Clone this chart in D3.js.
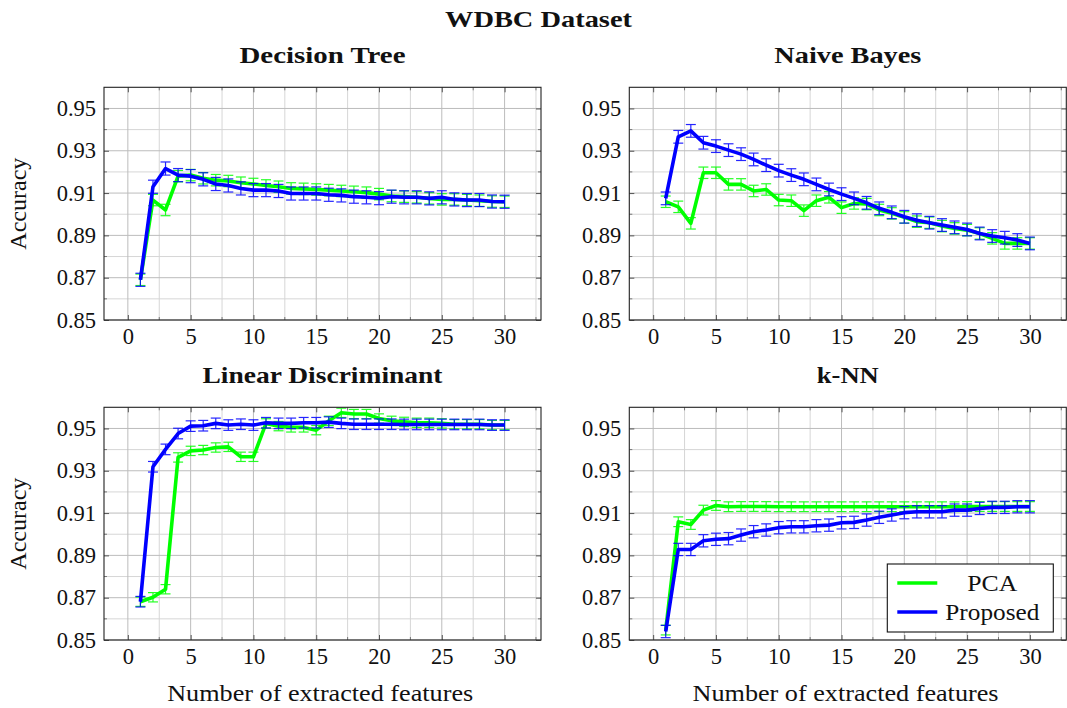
<!DOCTYPE html>
<html>
<head>
<meta charset="utf-8">
<script src="https://cdn.jsdelivr.net/npm/d3@7"></script>
<style>
  body { margin: 0; background: #fff; }
  svg text { font-family: "Liberation Serif", "DejaVu Serif", serif; fill: #111; }
</style>
</head>
<body>
<div id="image"></div>
<script>
// number of extracted features (x values)
var features = [1,2,3,4,5,6,7,8,9,10,11,12,13,14,15,16,17,18,19,20,21,22,23,24,25,26,27,28,29,30];

// decision tree
var dtPca = [0.8690,0.9067,0.9020,0.9180,0.9185,0.9170,0.9161,0.9157,0.9149,0.9143,0.9136,0.9130,0.9122,0.9120,0.9117,
             0.9114,0.9110,0.9106,0.9102,0.9095,0.9086,0.9083,0.9080,0.9075,0.9070,0.9070,0.9067,0.9064,0.9060,0.9059];
var dtProposed = [0.8690,0.9130,0.9216,0.9185,0.9180,0.9165,0.9143,0.9136,0.9122,0.9114,0.9114,0.9110,0.9098,0.9098,0.9098,
                  0.9092,0.9089,0.9083,0.9080,0.9076,0.9083,0.9080,0.9080,0.9075,0.9080,0.9070,0.9067,0.9067,0.9060,0.9059];
var dtPcaErr = 0.0027, dtProposedErr = 0.0031;

// naive bayes
var nbPca = [0.9059,0.9035,0.8957,0.9196,0.9196,0.9141,0.9141,0.9110,0.9117,0.9067,0.9064,0.9017,0.9064,0.9080,0.9031,
             0.9051,0.9048,0.9020,0.9004,0.8985,0.8965,0.8960,0.8944,0.8933,0.8925,0.8909,0.8886,0.8862,0.8862,0.8862];
var nbProposed = [0.9075,0.9366,0.9394,0.9338,0.9322,0.9303,0.9284,0.9259,0.9232,0.9206,0.9185,0.9165,0.9141,0.9117,0.9095,
                  0.9075,0.9054,0.9028,0.9009,0.8988,0.8972,0.8960,0.8949,0.8938,0.8928,0.8909,0.8897,0.8889,0.8878,0.8862];
var nbPcaErr = 0.0027, nbProposedErr = 0.0030;

// linear discriminant
var ldaPca = [0.8681,0.8702,0.8740,0.9363,0.9394,0.9398,0.9410,0.9413,0.9366,0.9366,0.9524,0.9511,0.9505,0.9505,0.9492,
              0.9536,0.9574,0.9568,0.9568,0.9547,0.9536,0.9531,0.9527,0.9527,0.9524,0.9520,0.9520,0.9520,0.9516,0.9516];
var ldaProposed = [0.8681,0.9319,0.9401,0.9476,0.9511,0.9513,0.9524,0.9516,0.9520,0.9516,0.9527,0.9524,0.9524,0.9527,0.9527,
                   0.9530,0.9524,0.9520,0.9520,0.9520,0.9520,0.9519,0.9519,0.9519,0.9519,0.9519,0.9519,0.9519,0.9516,0.9516];
var ldaPcaErr = 0.0022, ldaProposedErr = 0.0025;

// k-NN
var knnPca = [0.8547,0.9059,0.9046,0.9114,0.9136,0.9130,0.9131,0.9131,0.9131,0.9130,0.9130,0.9130,0.9130,0.9130,0.9130,
              0.9130,0.9130,0.9130,0.9130,0.9130,0.9130,0.9130,0.9130,0.9130,0.9131,0.9131,0.9131,0.9131,0.9131,0.9131];
var knnProposed = [0.8540,0.8928,0.8928,0.8969,0.8976,0.8979,0.8996,0.9012,0.9020,0.9031,0.9035,0.9035,0.9040,0.9043,0.9054,
                   0.9056,0.9067,0.9080,0.9091,0.9102,0.9106,0.9106,0.9106,0.9114,0.9114,0.9122,0.9127,0.9127,0.9130,0.9130];
var knnPcaErr = 0.0023, knnProposedErr = 0.0029;

// ticks
var xTicks = [0,5,10,15,20,25,30];
var xMinor = [2.5,7.5,12.5,17.5,22.5,27.5,32.5];
var yTicks = [0.85,0.87,0.89,0.91,0.93,0.95];
var yMinor = [0.86,0.88,0.90,0.92,0.94];

var seriesNames = ["PCA", "Proposed"];
var seriesColors = ["#00ff00", "#0000ff"];

var fs = 23.5;
var serif = "Liberation Serif";
var W = 437, H = 232.7;

var svg = d3.select("#image").append("svg")
    .attr("width", 1067)
    .attr("height", 708);

// main title
svg.append("text")
    .attr("x", 538.5).attr("y", 27)
    .attr("text-anchor", "middle")
    .attr("font-weight", "bold")
    .attr("font-size", fs)
    .attr("textLength", 187).attr("lengthAdjust", "spacingAndGlyphs")
    .text("WDBC Dataset");

var panels = [
    {title: "Decision Tree", tl: 166, left: 104, top: 87.3, pca: dtPca, prop: dtProposed, pe: dtPcaErr, qe: dtProposedErr, ylab: true, xlab: false},
    {title: "Naive Bayes", tl: 147, left: 629.3, top: 87.3, pca: nbPca, prop: nbProposed, pe: nbPcaErr, qe: nbProposedErr, ylab: false, xlab: false},
    {title: "Linear Discriminant", tl: 240, left: 104, top: 407.3, pca: ldaPca, prop: ldaProposed, pe: ldaPcaErr, qe: ldaProposedErr, ylab: true, xlab: true},
    {title: "k-NN", tl: 62, left: 629.3, top: 407.3, pca: knnPca, prop: knnProposed, pe: knnPcaErr, qe: knnProposedErr, ylab: false, xlab: true, legend: true}
];

var x = d3.scaleLinear().domain([-1.9, 32.9]).range([0, W]);
var y = d3.scaleLinear().domain([0.85, 0.96]).range([H, 0]);

panels.forEach(function(p, i) {
    var g = svg.append("g").attr("transform", "translate(" + p.left + "," + p.top + ")");

    g.append("clipPath").attr("id", "clip" + i)
        .append("rect").attr("width", W).attr("height", H);

    // minor grid
    g.selectAll(".gxm").data(xMinor).enter().append("line")
        .attr("x1", function(d){ return x(d); }).attr("x2", function(d){ return x(d); })
        .attr("y1", 0).attr("y2", H)
        .attr("stroke", "#d6d6d6").attr("stroke-width", 1);
    g.selectAll(".gym").data(yMinor).enter().append("line")
        .attr("y1", function(d){ return y(d); }).attr("y2", function(d){ return y(d); })
        .attr("x1", 0).attr("x2", W)
        .attr("stroke", "#d6d6d6").attr("stroke-width", 1);
    // major grid
    g.selectAll(".gx").data(xTicks).enter().append("line")
        .attr("x1", function(d){ return x(d); }).attr("x2", function(d){ return x(d); })
        .attr("y1", 0).attr("y2", H)
        .attr("stroke", "#bcbcbc").attr("stroke-width", 1);
    g.selectAll(".gy").data(yTicks).enter().append("line")
        .attr("y1", function(d){ return y(d); }).attr("y2", function(d){ return y(d); })
        .attr("x1", 0).attr("x2", W)
        .attr("stroke", "#bcbcbc").attr("stroke-width", 1);

    // axes (ticks inside, labels outside)
    var ax = g.append("g").attr("transform", "translate(0," + H + ")")
        .call(d3.axisBottom(x).tickValues(xTicks).tickSize(-5).tickPadding(10).tickFormat(d3.format("d")));
    var ay = g.append("g")
        .call(d3.axisLeft(y).tickValues(yTicks).tickSize(-5).tickPadding(8).tickFormat(d3.format(".2f")));
    g.append("g").call(d3.axisTop(x).tickValues(xTicks).tickSize(-5).tickFormat(""));
    g.append("g").attr("transform", "translate(" + W + ",0)")
        .call(d3.axisRight(y).tickValues(yTicks).tickSize(-5).tickFormat(""));
    [ax, ay].forEach(function(a) {
        a.attr("font-family", serif).attr("font-size", fs - 1);
        a.selectAll("text").attr("font-size", fs - 1).attr("font-family", serif).attr("fill", "#111");
    });
    ax.selectAll("text").attr("dy", "0.62em");
    g.selectAll(".domain").remove();
    g.selectAll(".tick line").attr("stroke", "#555");

    // minor tick marks
    [0, H].forEach(function(yy) {
        g.selectAll(null).data(xMinor).enter().append("line")
            .attr("x1", function(d){ return x(d); }).attr("x2", function(d){ return x(d); })
            .attr("y1", yy).attr("y2", yy === 0 ? 3 : H - 3)
            .attr("stroke", "#777");
    });
    [0, W].forEach(function(xx) {
        g.selectAll(null).data(yMinor).enter().append("line")
            .attr("y1", function(d){ return y(d); }).attr("y2", function(d){ return y(d); })
            .attr("x1", xx).attr("x2", xx === 0 ? 3 : W - 3)
            .attr("stroke", "#777");
    });

    // series
    var plot = g.append("g").attr("clip-path", "url(#clip" + i + ")");
    var line = d3.line()
        .x(function(d, j){ return x(features[j]); })
        .y(function(d){ return y(d); });

    [[p.pca, p.pe], [p.prop, p.qe]].forEach(function(s, k) {
        var col = seriesColors[k];
        plot.append("path")
            .datum(s[0])
            .attr("d", line)
            .attr("fill", "none")
            .attr("stroke", col)
            .attr("stroke-width", 3.6)
            .attr("stroke-linejoin", "round");
        var eb = plot.selectAll(null).data(s[0]).enter().append("g")
            .attr("stroke", col).attr("stroke-width", 1.2).attr("opacity", 0.85);
        eb.append("line")
            .attr("x1", function(d, j){ return x(features[j]); })
            .attr("x2", function(d, j){ return x(features[j]); })
            .attr("y1", function(d){ return y(d - s[1]); })
            .attr("y2", function(d){ return y(d + s[1]); });
        eb.append("line")
            .attr("x1", function(d, j){ return x(features[j]) - 5; })
            .attr("x2", function(d, j){ return x(features[j]) + 5; })
            .attr("y1", function(d){ return y(d - s[1]); })
            .attr("y2", function(d){ return y(d - s[1]); });
        eb.append("line")
            .attr("x1", function(d, j){ return x(features[j]) - 5; })
            .attr("x2", function(d, j){ return x(features[j]) + 5; })
            .attr("y1", function(d){ return y(d + s[1]); })
            .attr("y2", function(d){ return y(d + s[1]); });
    });

    // frame
    g.append("rect")
        .attr("width", W).attr("height", H)
        .attr("fill", "none").attr("stroke", "#222").attr("stroke-width", 1.1);

    // panel title
    g.append("text")
        .attr("x", W / 2).attr("y", -24)
        .attr("text-anchor", "middle")
        .attr("font-weight", "bold")
        .attr("font-size", fs)
        .attr("textLength", p.tl).attr("lengthAdjust", "spacingAndGlyphs")
        .text(p.title);

    if (p.ylab) {
        g.append("text")
            .attr("transform", "translate(" + (-78) + "," + (H / 2) + ") rotate(-90)")
            .attr("text-anchor", "middle")
            .attr("font-size", fs)
            .attr("textLength", 92).attr("lengthAdjust", "spacingAndGlyphs")
            .text("Accuracy");
    }
    if (p.xlab) {
        g.append("text")
            .attr("x", x(15) + 4).attr("y", H + 61)
            .attr("text-anchor", "middle")
            .attr("font-size", fs)
            .attr("textLength", 306).attr("lengthAdjust", "spacingAndGlyphs")
            .text("Number of extracted features");
    }

    if (p.legend) {
        var lg = g.append("g").attr("transform", "translate(" + (W - 179) + "," + (H - 76) + ")");
        lg.append("rect")
            .attr("width", 166).attr("height", 68)
            .attr("fill", "#fff").attr("stroke", "#111").attr("stroke-width", 1.1);
        seriesNames.forEach(function(name, k) {
            var yy = 19 + k * 29;
            lg.append("line")
                .attr("x1", 10).attr("x2", 50)
                .attr("y1", yy).attr("y2", yy)
                .attr("stroke", seriesColors[k]).attr("stroke-width", 3.6);
            lg.append("text")
                .attr("x", 105).attr("y", yy + 8)
                .attr("text-anchor", "middle")
                .attr("font-size", fs)
                .attr("textLength", k === 0 ? 50 : 94).attr("lengthAdjust", "spacingAndGlyphs")
                .text(name);
        });
    }
});
</script>
</body>
</html>
